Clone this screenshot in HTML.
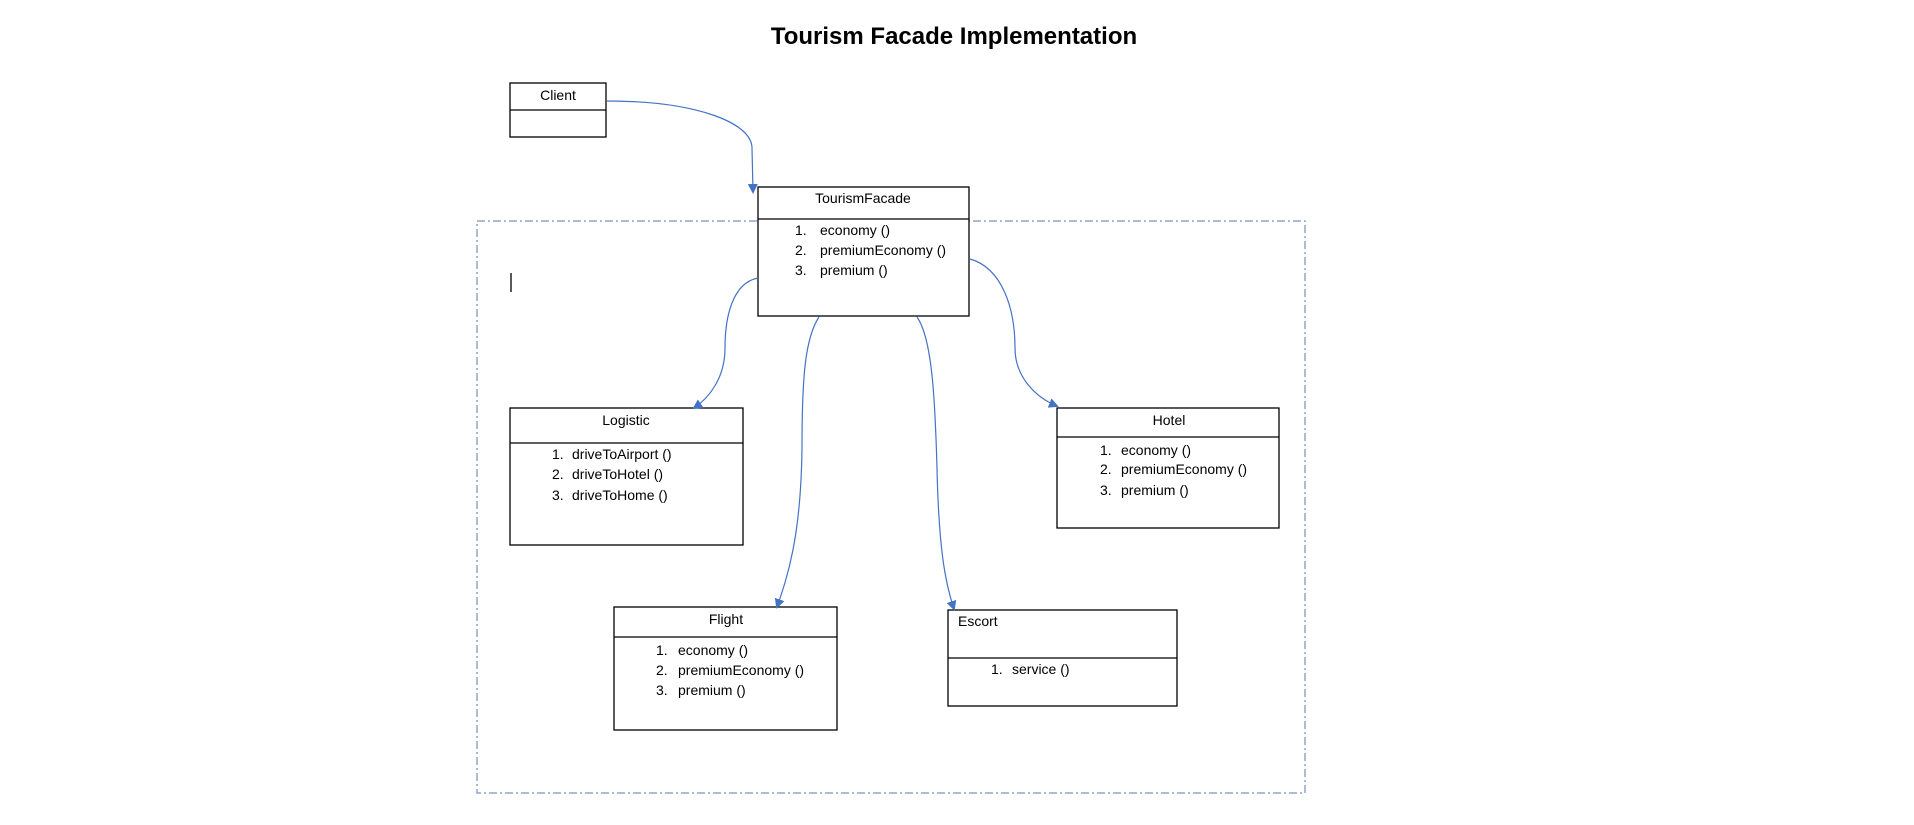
<!DOCTYPE html>
<html><head><meta charset="utf-8"><style>
body{margin:0;background:#fff;}
svg{display:block;font-family:"Liberation Sans",sans-serif;}
</style></head><body>
<svg width="1914" height="825" viewBox="0 0 1914 825" xmlns="http://www.w3.org/2000/svg">
<defs><marker id="a" markerWidth="10" markerHeight="10" refX="8" refY="5" orient="auto" markerUnits="userSpaceOnUse"><path d="M0,0 L10,5 L0,10 z" fill="#4472C4"/></marker></defs>
<g transform="translate(-3,-2)">
<text x="957" y="46" text-anchor="middle" font-size="24" font-weight="bold" fill="#000">Tourism Facade Implementation</text>
<rect x="480" y="223" width="828" height="572" fill="none" stroke="#8EA5CC" stroke-width="1.5" stroke-dasharray="8,3,2,3"/>
<g fill="none" stroke="#000" stroke-width="1.3">
<rect x="513" y="85" width="96" height="54"/><line x1="513" y1="112" x2="609" y2="112"/>
<rect x="761" y="189" width="211" height="129" fill="#fff"/><line x1="761" y1="221" x2="972" y2="221"/>
<rect x="513" y="410" width="233" height="137"/><line x1="513" y1="445" x2="746" y2="445"/>
<rect x="1060" y="410" width="222" height="120"/><line x1="1060" y1="439" x2="1282" y2="439"/>
<rect x="617" y="609" width="223" height="123"/><line x1="617" y1="639" x2="840" y2="639"/>
<rect x="951" y="612" width="229" height="96"/><line x1="951" y1="660" x2="1180" y2="660"/>
<line x1="514" y1="275" x2="514" y2="294"/>
</g>
<g fill="none" stroke="#4472C4" stroke-width="1.2" marker-end="url(#a)">
<path d="M610,103 C700,103 755,125 755,150 L756,194"/>
<path d="M761,280 C735,285 728,320 728,350 C728,380 712,400 697,410"/>
<path d="M822,319 C808,340 805,380 805,450 C804,540 790,580 780,609"/>
<path d="M920,319 C935,340 938,400 940,470 C942,560 950,590 957,611"/>
<path d="M973,261 C1005,270 1018,310 1018,350 C1018,380 1040,400 1060,408"/>
</g>
<g font-size="14" fill="#000">
<text x="561" y="102" text-anchor="middle">Client</text>
<text x="866" y="205" text-anchor="middle">TourismFacade</text>
<text x="798" y="237">1.</text><text x="823" y="237">economy ()</text>
<text x="798" y="257">2.</text><text x="823" y="257">premiumEconomy ()</text>
<text x="798" y="277">3.</text><text x="823" y="277">premium ()</text>
<text x="629" y="427" text-anchor="middle">Logistic</text>
<text x="555" y="461">1.</text><text x="575" y="461">driveToAirport ()</text>
<text x="555" y="481">2.</text><text x="575" y="481">driveToHotel ()</text>
<text x="555" y="502">3.</text><text x="575" y="502">driveToHome ()</text>
<text x="1172" y="427" text-anchor="middle">Hotel</text>
<text x="1103" y="457">1.</text><text x="1124" y="457">economy ()</text>
<text x="1103" y="476">2.</text><text x="1124" y="476">premiumEconomy ()</text>
<text x="1103" y="497">3.</text><text x="1124" y="497">premium ()</text>
<text x="729" y="626" text-anchor="middle">Flight</text>
<text x="659" y="657">1.</text><text x="681" y="657">economy ()</text>
<text x="659" y="677">2.</text><text x="681" y="677">premiumEconomy ()</text>
<text x="659" y="697">3.</text><text x="681" y="697">premium ()</text>
<text x="961" y="628">Escort</text>
<text x="994" y="676">1.</text><text x="1015" y="676">service ()</text>
</g>
</g>
</svg>
</body></html>
